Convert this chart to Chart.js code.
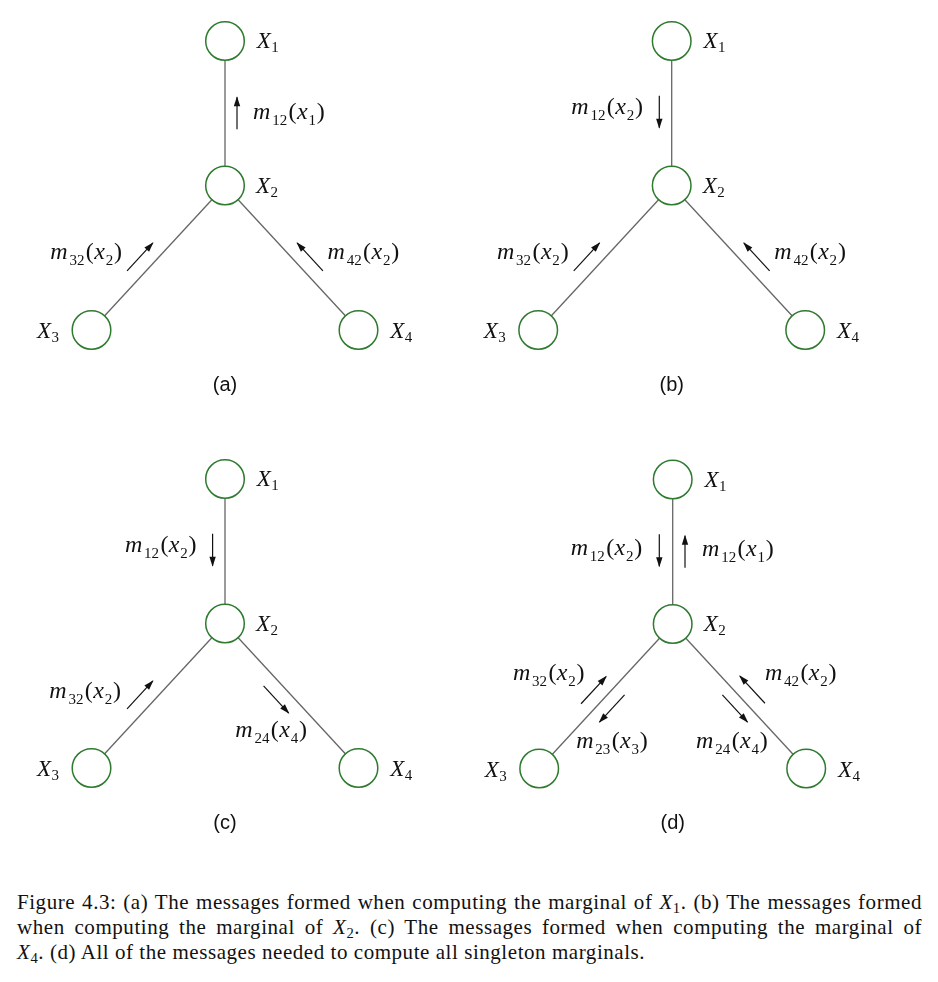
<!DOCTYPE html>
<html>
<head>
<meta charset="utf-8">
<script src="https://cdn.jsdelivr.net/npm/chart.js@4.4.1/dist/chart.umd.min.js"></script>
<style>
  html, body { margin: 0; padding: 0; background: #ffffff; }
  body { width: 938px; height: 982px; position: relative; overflow: hidden; }
  .panel { position: absolute; width: 447px; height: 438px; }
  .panel canvas { display: block; }
  #caption {
    position: absolute; left: 17px; top: 890px; width: 905px;
    font-family: "Liberation Serif", serif; font-size: 21px; line-height: 25px; color: #111;
    letter-spacing: 0.55px;
  }
  #caption .jl { text-align: justify; text-align-last: justify; }
  #caption sub { font-size: 0.7em; vertical-align: -0.25em; line-height: 0; }
</style>
</head>
<body>
<div class="panel" id="wa"><canvas id="pa" width="447" height="438"></canvas></div>
<div class="panel" id="wb"><canvas id="pb" width="447" height="438"></canvas></div>
<div class="panel" id="wc"><canvas id="pc" width="447" height="438"></canvas></div>
<div class="panel" id="wd"><canvas id="pd" width="447" height="438"></canvas></div>
<div id="caption">
  <div class="jl">Figure 4.3: (a) The messages formed when computing the marginal of <i>X</i><sub>1</sub>. (b) The messages formed</div>
  <div class="jl">when computing the marginal of <i>X</i><sub>2</sub>. (c) The messages formed when computing the marginal of</div>
  <div><i>X</i><sub>4</sub>. (d) All of the messages needed to compute all singleton marginals.</div>
</div>
<script>
// ---------------- DATA ----------------
const nodeNames = ['X1', 'X2', 'X3', 'X4'];
const nodeX = [0, 0, -1, 1];          // tree layout (units)
const nodeY = [2, 1, 0, 0];
const edgeFrom = [1, 1, 1];
const edgeTo = [0, 2, 3];
const panelTags = ['(a)', '(b)', '(c)', '(d)'];
// message label, sending node, receiving node
const messagesA = [['m12(x1)', 1, 0], ['m32(x2)', 2, 1], ['m42(x2)', 3, 1]];
const messagesB = [['m12(x2)', 0, 1], ['m32(x2)', 2, 1], ['m42(x2)', 3, 1]];
const messagesC = [['m12(x2)', 0, 1], ['m32(x2)', 2, 1], ['m24(x4)', 1, 3]];
const messagesD = [['m12(x2)', 0, 1], ['m12(x1)', 1, 0], ['m32(x2)', 2, 1],
                   ['m23(x3)', 1, 2], ['m24(x4)', 1, 3], ['m42(x2)', 3, 1]];

// ---------------- LAYOUT / STYLE ----------------
const UNIT_X = 133.5, UNIT_Y = 144.5;           // px per layout unit
const PANEL_W = 447, PANEL_H = 438;
const panelPos = [[0, 0], [447, 0], [0, 438], [447, 438]];
const panelAnchor = [[225, 185.5], [224.7, 185.5], [225, 185.5], [225.7, 186]]; // X2 in canvas px
// per message: t along edge, perpendicular offset px, length px, label dx, label dy (baseline), align
const arrowGeom = [
  [[0.50, 12, 32, 16, 5.3, 'left'], [0.44, -14, 38, -18, 2, 'right'], [0.44, 14, 38, 17.5, 2, 'left']],
  [[0.49, 12.4, 32, -16.3, 2.2, 'right'], [0.44, -14, 38, -18, 2, 'right'], [0.44, 14, 38, 17.5, 2, 'left']],
  [[0.49, 12.4, 32, -16, 2.5, 'right'], [0.44, -14, 38, -19, 3, 'right'], [0.46, 14, 37, -5, 37.7, 'center']],
  [[0.49, 13.4, 32, -17, 4.2, 'right'], [0.50, 12.3, 32, 17, 4, 'left'], [0.48, -13.2, 37, -9, -10, 'right'],
   [0.525, -12.8, 37, 0, 39.5, 'center'], [0.53, 11.6, 37, -3, 39.5, 'center'], [0.48, 14, 37, 12.5, -10, 'left']]
];
const nodeLabelOff = [[31.7, 7, 'left'], [31, 7, 'left'], [-32.4, 8, 'right'], [31.7, 8, 'left']];
const NODE_GREEN = '#2f7a2f';
const EDGE_GRAY = '#666666';
const INK = '#111111';

function arrowPoints(from, to, t, off, len) {
  const ax = nodeX[from] * UNIT_X, ay = -nodeY[from] * UNIT_Y;
  const bx = nodeX[to] * UNIT_X, by = -nodeY[to] * UNIT_Y;
  const dx = bx - ax, dy = by - ay, L = Math.hypot(dx, dy);
  const ux = dx / L, uy = dy / L, nx = -uy, ny = ux;
  const cx = ax + ux * t * L + nx * off, cy = ay + uy * t * L + ny * off;
  return [
    { x: (cx - ux * len / 2) / UNIT_X, y: -(cy - uy * len / 2) / UNIT_Y },
    { x: (cx + ux * len / 2) / UNIT_X, y: -(cy + uy * len / 2) / UNIT_Y }
  ];
}

function parseMsg(s) {
  const m = /^m(\d+)\(x(\d+)\)$/.exec(s);
  return [
    { t: 'm', f: 'it', g: 1.8 }, { t: m[1], f: 'sub', g: 1.4 }, { t: '(', f: 'rm', g: 0.4 },
    { t: 'x', f: 'it', g: 0.8 }, { t: m[2], f: 'sub', g: 0.8 }, { t: ')', f: 'rm', g: 0 }
  ];
}
function parseNode(s) {
  return [{ t: 'X', f: 'it', g: 0.5 }, { t: s.slice(1), f: 'sub', g: 0 }];
}
const MSG_FONTS = { it: 'italic 24px "Liberation Serif"', rm: '24px "Liberation Serif"', sub: '15px "Liberation Serif"', drop: 6 };
const NODE_FONTS = { it: 'italic 23px "Liberation Serif"', rm: '23px "Liberation Serif"', sub: '15px "Liberation Serif"', drop: 4 };

function drawRich(ctx, parts, fonts, x, y, align) {
  let w = 0;
  parts.forEach(p => { ctx.font = fonts[p.f]; p.w = ctx.measureText(p.t).width; w += p.w + p.g; });
  let cx = align === 'left' ? x : align === 'right' ? x - w : x - w / 2;
  ctx.textBaseline = 'alphabetic';
  ctx.textAlign = 'left';
  parts.forEach(p => {
    ctx.font = fonts[p.f];
    ctx.fillText(p.t, cx, p.f === 'sub' ? y + fonts.drop : y);
    cx += p.w + p.g;
  });
}

function makePanel(idx, canvasId, wrapId, messages) {
  const wrap = document.getElementById(wrapId);
  wrap.style.left = panelPos[idx][0] + 'px';
  wrap.style.top = panelPos[idx][1] + 'px';
  const [ax, ay] = panelAnchor[idx];
  const xmin = -ax / UNIT_X, xmax = xmin + PANEL_W / UNIT_X;
  const ymax = 1 + ay / UNIT_Y, ymin = ymax - PANEL_H / UNIT_Y;
  const geom = arrowGeom[idx];

  const datasets = [];
  datasets.push({
    label: 'nodes',
    data: nodeX.map((x, i) => ({ x: x, y: nodeY[i] })),
    pointRadius: 19.3, pointHoverRadius: 19.3,
    pointBorderWidth: 1.5, pointHoverBorderWidth: 1.5,
    pointBorderColor: NODE_GREEN, pointBackgroundColor: '#ffffff',
    showLine: false
  });
  messages.forEach((msg, k) => {
    const g = geom[k];
    datasets.push({
      label: msg[0], isArrow: true, geom: g,
      data: arrowPoints(msg[1], msg[2], g[0], g[1], g[2]),
      showLine: true, borderColor: INK, borderWidth: 1.2, pointRadius: 0, pointHoverRadius: 0
    });
  });
  edgeFrom.forEach((f, k) => {
    const t = edgeTo[k];
    datasets.push({
      label: 'edge' + k,
      data: [{ x: nodeX[f], y: nodeY[f] }, { x: nodeX[t], y: nodeY[t] }],
      showLine: true, borderColor: EDGE_GRAY, borderWidth: 1.3, pointRadius: 0, pointHoverRadius: 0
    });
  });

  const decor = {
    id: 'decor' + idx,
    afterDatasetsDraw(chart) {
      const ctx = chart.ctx;
      ctx.save();
      chart.data.datasets.forEach((ds, i) => {
        if (!ds.isArrow) return;
        const meta = chart.getDatasetMeta(i);
        const p0 = meta.data[0], p1 = meta.data[1];
        const ang = Math.atan2(p1.y - p0.y, p1.x - p0.x);
        const hl = 9, hw = 3.2;
        ctx.fillStyle = INK;
        ctx.beginPath();
        ctx.moveTo(p1.x + Math.cos(ang) * 1, p1.y + Math.sin(ang) * 1);
        ctx.lineTo(p1.x - Math.cos(ang) * hl - Math.sin(ang) * hw, p1.y - Math.sin(ang) * hl + Math.cos(ang) * hw);
        ctx.lineTo(p1.x - Math.cos(ang) * hl + Math.sin(ang) * hw, p1.y - Math.sin(ang) * hl - Math.cos(ang) * hw);
        ctx.closePath();
        ctx.fill();
        const g = ds.geom;
        const mx = (p0.x + p1.x) / 2 + g[3], my = (p0.y + p1.y) / 2 + g[4];
        ctx.fillStyle = INK;
        drawRich(ctx, parseMsg(ds.label), MSG_FONTS, mx, my, g[5]);
      });
      const sx = chart.scales.x, sy = chart.scales.y;
      nodeNames.forEach((name, i) => {
        const px = sx.getPixelForValue(nodeX[i]), py = sy.getPixelForValue(nodeY[i]);
        const o = nodeLabelOff[i];
        ctx.fillStyle = INK;
        drawRich(ctx, parseNode(name), NODE_FONTS, px + o[0], py + o[1], o[2]);
      });
      const tx = sx.getPixelForValue(nodeX[1]), ty = sy.getPixelForValue(nodeY[1]);
      ctx.font = '20px "Liberation Sans"';
      ctx.textAlign = 'center';
      ctx.textBaseline = 'middle';
      ctx.fillStyle = INK;
      ctx.fillText(panelTags[idx], tx, ty + 199.5);
      ctx.restore();
    }
  };

  return new Chart(document.getElementById(canvasId), {
    type: 'scatter',
    data: { datasets: datasets },
    options: {
      responsive: false, maintainAspectRatio: false, animation: false,
      layout: { padding: 0, autoPadding: false },
      events: [],
      scales: {
        x: { type: 'linear', min: xmin, max: xmax, display: false },
        y: { type: 'linear', min: ymin, max: ymax, display: false }
      },
      plugins: { legend: { display: false }, tooltip: { enabled: false }, title: { display: false } }
    },
    plugins: [decor]
  });
}

makePanel(0, 'pa', 'wa', messagesA);
makePanel(1, 'pb', 'wb', messagesB);
makePanel(2, 'pc', 'wc', messagesC);
makePanel(3, 'pd', 'wd', messagesD);
</script>
</body>
</html>
